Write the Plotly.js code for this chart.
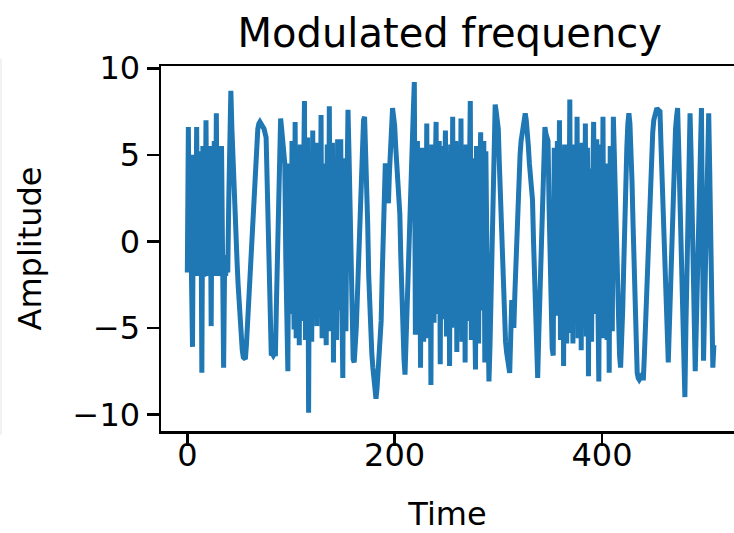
<!DOCTYPE html>
<html>
<head>
<meta charset="utf-8">
<script src="https://cdn.plot.ly/plotly-3.0.1.min.js"></script>
<style>
  html, body { margin: 0; padding: 0; background: #ffffff; }
  #chart { width: 734px; height: 533px; }
</style>
</head>
<body>
<div id="chart"></div>
<script>
// One amplitude value per time step (time = 0, 1, 2, ...)
const amplitude = [
  -1.8, 6.6, -1.5, 5.0, -2.0, -6.1, 5.0, -1.0, -1.8, 6.6,
  -2.0, 5.2, -1.5, 4.8, -7.6, 5.5, -2.0, -1.8, 7.0, -1.5,
  5.5, -2.0, 5.0, -4.9, 5.5, -1.8, 5.8, -2.0, 7.4, -1.5,
  5.5, -2.0, -1.5, 5.5, -0.6, -7.3, -1.2, -2.0, -0.8, -1.8,
  2.5, 6.8, 8.7, 6.5, 4.5, 3.0, 2.0, 0.5, -1.2, -2.5,
  -3.8, -4.9, -5.8, -6.3, -6.7, -6.8, -6.8, -6.0, -4.8, -3.3,
  -2.0, -1.5, 0.0, 1.4, 3.0, 4.3, 5.3, 6.1, 6.5, 6.8,
  6.9, 6.8, 6.6, 6.6, 6.5, 6.3, 6.0, 3.5, 0.0, -3.5,
  -6.0, -6.6, -6.5, -6.6, -6.5, -6.5, -3.5, -0.5, 2.5, 5.5,
  7.1, 6.5, 5.8, 5.0, 4.5, -1.0, -5.5, -7.5, 4.5, -0.5,
  -4.2, 5.8, -2.0, -5.1, 6.9, -5.6, -0.2, 4.4, -6.0, 5.6,
  0.5, -4.6, 3.0, 8.1, -5.7, 0.5, 6.0, -9.9, 4.2, 0.0,
  -5.8, 6.4, -4.1, -0.5, 5.7, -4.9, 5.2, 0.5, -4.4, 7.3,
  -5.6, -0.5, 4.5, -3.0, -6.0, 5.6, -5.2, 7.8, -4.3, 0.3,
  5.7, -7.0, 4.0, 0.5, -5.7, 5.9, -4.0, -0.5, 5.9, -3.0,
  -7.9, 4.8, 0.5, -5.2, 3.0, 7.6, 5.0, 1.5, -2.5, -5.5,
  -6.8, -7.0, -6.2, -5.0, -3.3, -1.5, 0.5, 2.5, 4.5, 6.0,
  7.0, 7.2, 5.5, 3.5, 1.0, -2.0, -4.2, -5.5, -6.5, -7.3,
  -8.0, -8.8, -9.1, -8.5, -7.5, -6.5, -5.5, -4.6, -2.0, 1.0,
  3.0, 4.5, 3.5, 2.5, 2.2, 4.0, 6.0, 7.2, 7.7, 7.2,
  6.7, 5.5, 4.5, 3.5, 2.5, 1.6, -1.0, -3.5, -5.0, -6.8,
  -7.7, -5.5, -3.5, -1.5, 0.5, 2.5, 4.5, 6.0, 7.5, 9.2,
  -5.4, 0.5, 5.8, -4.4, 2.5, -7.3, 5.4, -0.5, -5.8, 4.3,
  -2.5, 6.8, -5.6, -0.2, 4.5, -8.3, 5.6, 0.5, -4.7, 3.5,
  6.9, -4.2, 0.0, 5.8, -7.1, 5.5, 0.3, -4.5, 3.0, 6.4,
  -5.5, -0.5, 4.6, -7.2, 5.6, -5.0, 7.2, -4.2, 0.3, 5.8,
  -6.4, 5.5, -0.2, -4.5, 7.1, -5.8, 0.2, 4.6, -7.0, 5.6,
  0.5, -4.6, 3.0, 8.1, -5.7, -0.5, 4.8, -3.0, -7.4, 5.5,
  0.3, -5.9, 3.0, 6.3, -4.0, 0.0, 5.8, -7.0, 5.2, -0.5,
  -5.0, -8.1, -6.0, -3.5, -0.5, 2.5, 5.5, 7.9, 7.5, 7.0,
  6.5, 4.5, 2.5, 0.5, -1.5, -3.5, -5.0, -5.8, -6.4, -7.0,
  -7.4, -7.6, -5.5, -3.4, -4.2, -5.0, -3.0, -1.0, 0.8, 2.0,
  3.5, 5.0, 5.8, 6.3, 6.8, 7.2, 7.4, 7.0, 6.5, 5.5,
  4.5, 3.5, 3.0, 2.4, 0.0, -2.5, -5.0, -6.8, -7.9, -5.5,
  -3.0, -0.5, 2.0, 4.2, 5.8, 6.6, 6.2, 6.0, 5.8, 2.0,
  -1.5, -4.5, -6.2, -6.6, 5.4, -0.5, -4.3, 5.8, -2.5, 7.0,
  -5.7, -0.2, 4.4, -7.2, 5.6, -0.4, -5.9, 4.3, -2.0, 8.2,
  -5.3, 5.2, -5.9, 5.6, 0.2, -4.4, 7.2, -5.6, -0.3, 4.5,
  -6.3, 5.7, 0.0, -4.6, 6.8, -5.5, 5.4, -7.8, 4.2, 0.4,
  -5.8, 3.0, 6.9, -4.2, -0.4, 5.9, -3.0, -8.1, 5.6, 0.2,
  -4.5, 7.2, -5.6, 0.4, 4.5, -5.7, 2.5, -7.6, 5.5, -0.2,
  -5.2, 7.2, 5.0, 2.5, -0.5, -3.5, -6.0, -6.6, -7.3, -6.0,
  -4.0, -1.5, 1.5, 4.0, 5.4, 6.8, 7.4, 6.8, 5.5, 3.5,
  1.0, -1.5, -4.0, -6.0, -7.6, -7.9, -8.0, -7.9, -7.8, -7.9,
  -7.9, -6.5, -4.8, -3.2, -2.5, 0.6, 2.5, 4.0, 5.2, 6.3,
  7.0, 7.3, 7.6, 7.7, 7.6, 7.5, 7.5, 5.5, 3.5, 1.5,
  -0.5, -2.5, -4.5, -6.2, -7.0, -5.0, -3.0, -1.5, 1.5, 4.0,
  5.5, 6.5, 7.2, 7.7, 5.5, 3.0, 0.5, -2.5, -5.5, -7.5,
  -9.0, -5.0, -2.0, 2.0, 5.5, 7.4, 5.0, 2.0, -2.0, -5.5,
  -7.5, -5.0, -2.0, 1.5, 4.5, 6.5, 7.7, 0.5, -6.9, -4.0,
  -0.5, 3.0, 6.0, 7.4, 4.0, -0.5, -5.0, -7.3, -6.0
];

const timeStart = 0;   // first time step
const timeStep = 1;    // spacing between samples

const xTicks = [0, 200, 400];
const yTicks = [-10, -5, 0, 5, 10];

const chartTitle = 'Modulated frequency';
const xLabel = 'Time';
const yLabel = 'Amplitude';

const font = 'DejaVu Sans, sans-serif';

const trace = {
  y: amplitude,
  x0: timeStart,
  dx: timeStep,
  type: 'scatter',
  mode: 'lines',
  line: { color: '#1f77b4', width: 5 },
  hoverinfo: 'skip'
};

const layout = {
  width: 734,
  height: 533,
  margin: { l: 161, r: 0, t: 66, b: 102, pad: 0 },
  paper_bgcolor: '#ffffff',
  plot_bgcolor: '#ffffff',
  showlegend: false,
  font: { family: font, color: '#000000', size: 32 },
  title: {
    text: chartTitle,
    font: { family: font, size: 40, color: '#000000' },
    x: 0.504, xref: 'paper', xanchor: 'center',
    y: 1 - 33 / 533, yref: 'container', yanchor: 'middle'
  },
  xaxis: {
    range: [-25.4, 527.4],
    tickvals: xTicks,
    ticktext: xTicks.map(String),
    ticks: 'outside', ticklen: 12, tickwidth: 2.5, tickcolor: '#000000',
    ticklabelstandoff: -18,
    showline: true, linecolor: '#000000', linewidth: 2.5, mirror: true,
    showgrid: false, zeroline: false,
    tickfont: { family: font, size: 32, color: '#000000' },
    title: { text: xLabel, font: { family: font, size: 32, color: '#000000' }, standoff: 34 }
  },
  yaxis: {
    range: [-10.96, 10.13],
    tickvals: yTicks,
    ticks: 'outside', ticklen: 12, tickwidth: 2.5, tickcolor: '#000000',
    showline: true, linecolor: '#000000', linewidth: 2.5, mirror: false,
    showgrid: false, zeroline: false,
    tickfont: { family: font, size: 32, color: '#000000' },
    title: { text: yLabel, font: { family: font, size: 32, color: '#000000' }, standoff: 22 }
  },
  shapes: [{
    type: 'line', xref: 'paper', yref: 'paper',
    x0: -160 / 573, x1: -160 / 573, y0: -0.01, y1: 1.02,
    line: { color: '#e4e4e4', width: 1 }
  }]
};

Plotly.newPlot('chart', [trace], layout, { staticPlot: true, displayModeBar: false });
</script>
</body>
</html>
